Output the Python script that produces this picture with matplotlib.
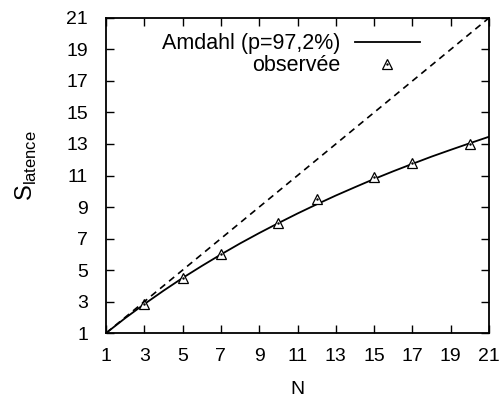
import matplotlib.pyplot as plt

plt.rcParams['font.family'] = 'Liberation Sans'
plt.rcParams['mathtext.fontset'] = 'custom'
plt.rcParams['mathtext.rm'] = 'Liberation Sans'

# courbe d'Amdahl (p = 97,2%)
n_amdahl = [1, 2, 3, 4, 5, 6, 7, 8, 9, 10, 11, 12, 13, 14, 15, 16, 17, 18, 19, 20, 21]
s_amdahl = [1.0, 1.95, 2.84, 3.69, 4.5, 5.26, 5.99, 6.69, 7.35, 7.98, 8.59, 9.17,
            9.73, 10.26, 10.78, 11.27, 11.74, 12.2, 12.63, 13.05, 13.46]

# points mesures
n_obs = [3, 5, 7, 10, 12, 15, 17, 20]
s_obs = [2.84, 4.47, 6.0, 7.97, 9.5, 10.9, 11.8, 12.98]

# acceleration ideale
n_ideal = [1, 21]
s_ideal = [1, 21]

ticks = [1, 3, 5, 7, 9, 11, 13, 15, 17, 19, 21]
labels = ['Amdahl (p=97,2%)', 'observée']

fig = plt.figure(figsize=(5, 3.98), dpi=100)
ax = fig.add_axes([0.212, 0.163, 0.766, 0.792])

ax.plot(n_amdahl, s_amdahl, color='black', lw=1.3)
ax.plot(n_obs, s_obs, ls='none', marker='^', ms=7, mfc='white', mec='black', mew=0.9)
ax.plot(n_obs, s_obs, ls='none', marker='.', ms=1.5, color='black')
ax.plot(n_ideal, s_ideal, color='black', lw=1.2, ls=(0, (4, 3)))

ax.set_xlim(1, 21)
ax.set_ylim(1, 21)
ax.set_xticks(ticks)
ax.set_yticks(ticks)
ax.tick_params(direction='in', length=6, width=1, top=True, right=True, labelsize=14)
ax.tick_params(axis='y', pad=13)
ax.tick_params(axis='x', pad=11)
for s in ax.spines.values():
    s.set_linewidth(1.3)

ax.set_xlabel('N', fontsize=14, labelpad=11)
ax.set_ylabel(r'S$_{\mathrm{latence}}$', fontsize=17)
ax.yaxis.set_label_coords(-0.175, 0.53)

# legende facon gnuplot : texte aligne a droite, echantillon a droite
tr = ax.transAxes
ax.text(0.611, 0.902, labels[0], transform=tr, ha='right', va='baseline', fontsize=15.5)
ax.text(0.611, 0.830, labels[1], transform=tr, ha='right', va='baseline', fontsize=15.5)
ax.plot([0.65, 0.82], [0.925, 0.925], transform=tr, color='black', lw=1.3, clip_on=False)
ax.plot([0.734], [0.855], transform=tr, ls='none', marker='^', ms=7, mfc='white',
        mec='black', mew=0.9, clip_on=False)
ax.plot([0.734], [0.855], transform=tr, ls='none', marker='.', ms=1.5, color='black')

fig.savefig('out.png', dpi=100)
